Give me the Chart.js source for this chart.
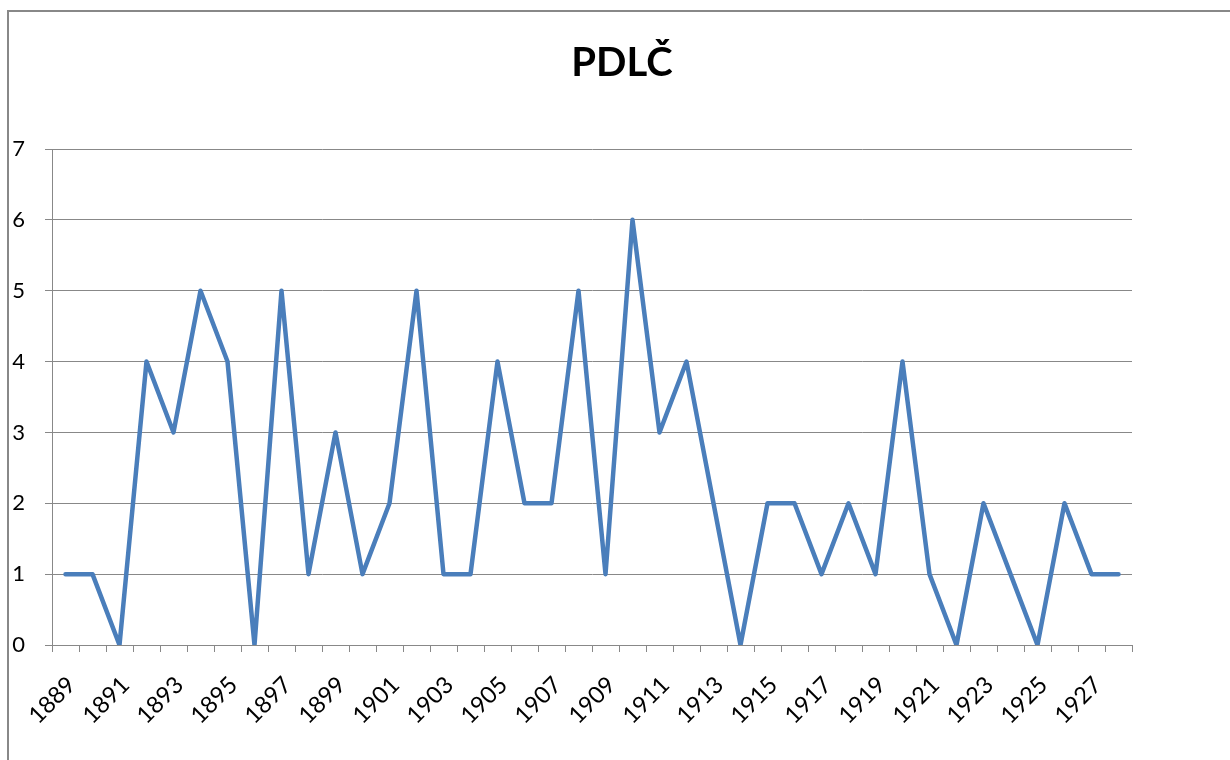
<!DOCTYPE html>
<html>
<head>
<meta charset="utf-8">
<script src="https://cdn.jsdelivr.net/npm/chart.js"></script>
<style>
  html, body { margin: 0; padding: 0; background: #fff; overflow: hidden; }
  #wrap { position: relative; width: 1230px; height: 760px; }
  #frame {
    position: absolute; left: 7px; top: 10px; width: 1300px; height: 900px;
    border: 2px solid #888; box-sizing: border-box; pointer-events: none;
  }
  canvas { position: absolute; left: 0; top: 0; }
</style>
</head>
<body>
<div id="wrap">
  <canvas id="pdlc" width="1230" height="760"></canvas>
  <div id="frame"></div>
</div>
<script>
const years = [
  "1889", "1890", "1891", "1892", "1893", "1894", "1895", "1896", "1897", "1898",
  "1899", "1900", "1901", "1902", "1903", "1904", "1905", "1906", "1907", "1908",
  "1909", "1910", "1911", "1912", "1913", "1914", "1915", "1916", "1917", "1918",
  "1919", "1920", "1921", "1922", "1923", "1924", "1925", "1926", "1927", "1928"
];
const counts = [
  1, 1, 0, 4, 3, 5, 4, 0, 5, 1,
  3, 1, 2, 5, 1, 1, 4, 2, 2, 5,
  1, 6, 3, 4, 2, 0, 2, 2, 1, 2,
  1, 4, 1, 0, 2, 1, 0, 2, 1, 1
];
const chartTitle = "PDLČ";

const gridCol = "#888888";
const fontFam = "Lato, 'Open Sans', sans-serif";

const chelt = document.getElementById("pdlc");
new Chart(chelt, {
  type: "line",
  data: {
    labels: years,
    datasets: [{
      label: chartTitle,
      data: counts,
      borderColor: "#4A7EBB",
      borderWidth: 4.5,
      borderJoinStyle: "round",
      borderCapStyle: "round",
      pointRadius: 0,
      tension: 0,
      fill: false,
    }],
  },
  options: {
    responsive: false,
    animation: false,
    // small negative right padding nudges the centred title to the right
    layout: { padding: { left: 7, right: -7, top: 0, bottom: 0 } },
    plugins: {
      legend: { display: false },
      tooltip: { enabled: false },
      title: {
        display: true,
        text: chartTitle,
        color: "#000",
        font: { family: fontFam, size: 40, weight: "bold" },
        padding: { top: 39, bottom: 62 },
      },
    },
    scales: {
      x: {
        offset: true,
        grid: {
          offset: true,
          drawOnChartArea: false,
          color: gridCol,
          tickLength: 7,
        },
        border: { display: true, color: gridCol },
        ticks: {
          autoSkip: false,
          minRotation: 45,
          maxRotation: 45,
          padding: 19,
          labelOffset: 6,
          color: "#000",
          font: { family: fontFam, size: 23.5 },
          callback: function (val, i) {
            return i % 2 === 0 ? years[i] : "";
          },
        },
        afterFit: function (sc) { sc.height = 115; },
      },
      y: {
        min: 0,
        max: 7,
        grid: { color: gridCol, tickLength: 7 },
        border: { display: true, color: gridCol },
        ticks: {
          stepSize: 1,
          padding: 20,
          color: "#000",
          font: { family: fontFam, size: 22 },
        },
        afterFit: function (sc) { sc.width = 45; },
      },
      // empty right-hand strip, keeps the title centred on the page
      yRight: {
        position: "right",
        min: 0,
        max: 7,
        grid: { display: false },
        border: { display: false },
        ticks: { display: false },
        afterFit: function (sc) { sc.width = 105; },
      },
    },
  },
});
</script>
</body>
</html>
